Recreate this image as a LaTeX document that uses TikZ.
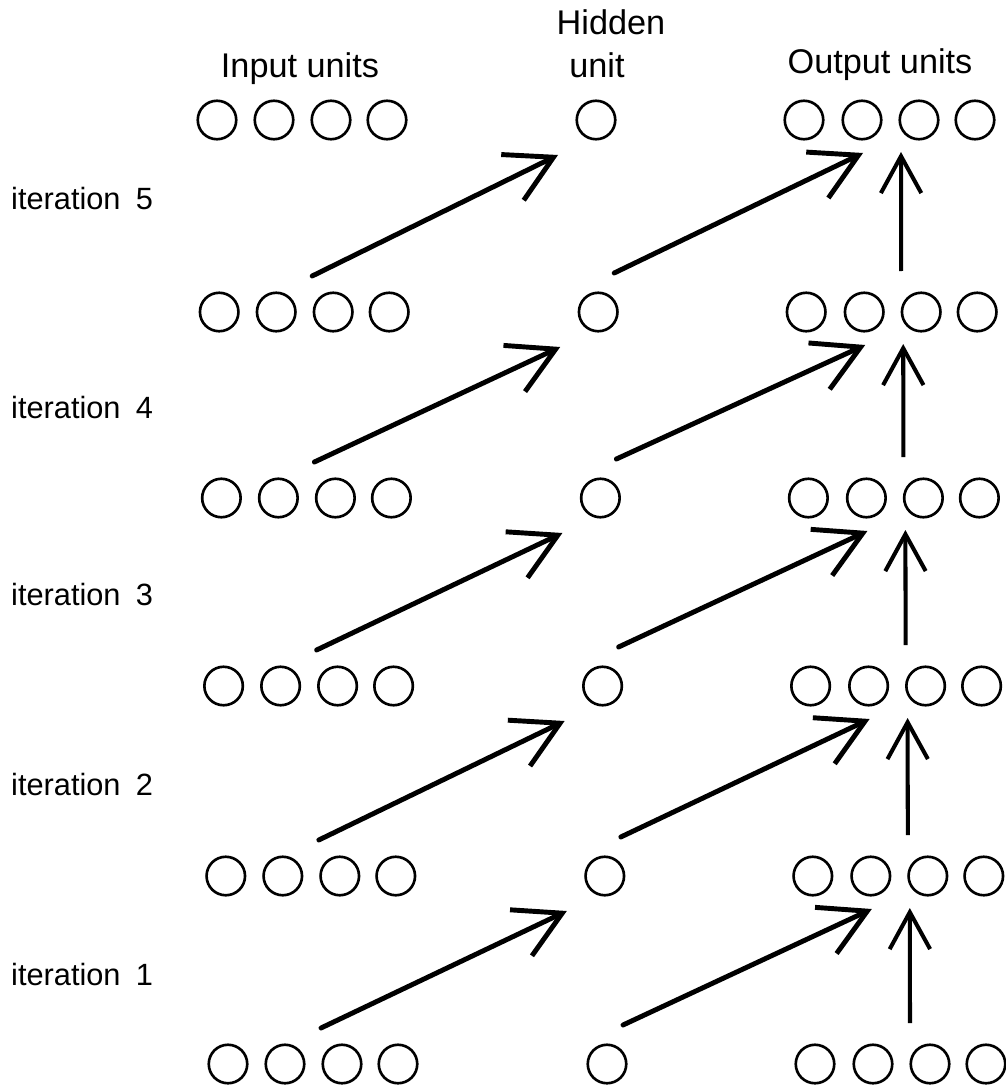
\documentclass[tikz,border=0pt]{standalone}
\usepackage{fontspec}
\setmainfont{Liberation Sans}
\usetikzlibrary{arrows.meta,calc}

\begin{document}
\begin{tikzpicture}[
    x=0.02cm, y=-0.02cm, % one unit per pixel, y running downwards
    unit/.style={circle, draw, line width=1.5pt, minimum size=0.77cm, inner sep=0pt},
    link/.style={line width=2.8pt, line cap=round, -{Straight Barb[length=26pt, width=29pt]}},
    carry/.style={line width=2.3pt, -{Straight Barb[length=21pt, width=23pt]}},
    head/.style={font=\fontsize{19.5}{22}\selectfont, anchor=base},
    iter/.style={font=\fontsize{17.5}{20}\selectfont, anchor=base west}
]
    \useasboundingbox (0,0) rectangle (1005,1091);

    % --- Units, one row per step (row 0 at the bottom) ---
    \foreach \k/\y in {0/1064, 1/876, 2/686, 3/498, 4/312, 5/120} {
        \pgfmathsetmacro{\dx}{-2.2*\k}
        \foreach \i/\x in {1/228, 2/285, 3/342, 4/398}
            \node[unit] (in-\k-\i) at (\x+\dx, \y) {};
        \node[unit] (hid-\k) at (607+\dx, \y) {};
        \foreach \i/\x in {1/815, 2/873, 3/930, 4/986}
            \node[unit] (out-\k-\i) at (\x+\dx, \y) {};
    }

    % --- Connections from one row to the next ---
    \foreach \k in {0,...,4} {
        \pgfmathtruncatemacro{\j}{\k+1}
        \draw[link] ($(in-\k-3)+(-21,-36)$) -- ($(hid-\j)+(-38,35)$);
        \draw[link] ($(hid-\k)+(16,-39)$) -- ($(out-\j-2)+(1,33)$);
        \draw[carry] ($(out-\k-3)+(-20,-41)$) -- ($(out-\j-3)+(-18,32)$);
    }

    % --- Column headings ---
    \node[head] (lbl-in) at (300,78) {Input units};
    \node[head] (lbl-hid) at (611,35) {Hidden};
    \node[head] (lbl-unit) at (597,78) {unit};
    \node[head] (lbl-out) at (880,74) {Output units};

    % --- Step labels ---
    \foreach \n/\y in {5/210, 4/418, 3/605, 2/795, 1/985}
        \node[iter] (iter-\n) at (5,\y) {iteration\enspace\n};

\end{tikzpicture}
\end{document}
